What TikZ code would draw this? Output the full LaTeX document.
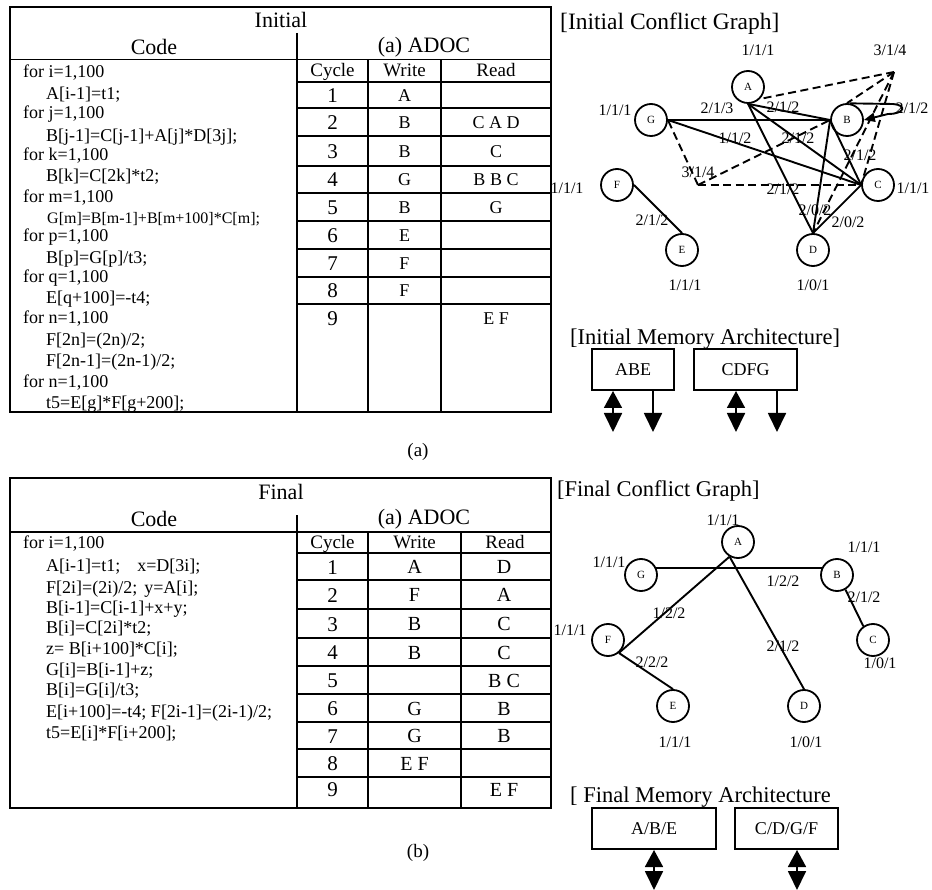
\documentclass[tikz,border=0pt]{standalone}
\usepackage{fontspec}
\setmainfont{Liberation Serif}
\usetikzlibrary{arrows.meta}
\begin{document}
\begin{tikzpicture}[x=1pt,y=-1pt,
  tl/.style={line width=1.5pt},
  codetxt/.style={anchor=base west,inner sep=0pt,font=\fontsize{18}{20}\selectfont},
  codesm/.style={anchor=base west,inner sep=0pt,font=\fontsize{16}{18}\selectfont},
  hdr/.style={inner sep=0pt,font=\fontsize{22}{24}\selectfont},
  colhdr/.style={anchor=base,inner sep=0pt,font=\fontsize{19}{20}\selectfont},
  num/.style={anchor=base,inner sep=0pt,font=\fontsize{21}{22}\selectfont},
  ltrA/.style={anchor=base,inner sep=0pt,font=\fontsize{18}{20}\selectfont},
  ltrB/.style={anchor=base,inner sep=0pt,font=\fontsize{20}{22}\selectfont},
  vtx/.style={circle,draw,line width=1.8pt,minimum size=32pt,inner sep=0pt,font=\fontsize{11}{11}\selectfont},
  lbl/.style={inner sep=0pt,font=\fontsize{16}{16}\selectfont},
  edg/.style={line width=1.9pt},
  hyp/.style={line width=1.9pt,dash pattern=on 8pt off 4.5pt},
  ttlA/.style={anchor=west,inner sep=0pt,font=\fontsize{23.5}{25}\selectfont},
  ttlB/.style={anchor=west,inner sep=0pt,font=\fontsize{22.5}{24}\selectfont},
  mbox/.style={draw,line width=2pt,inner sep=0pt,minimum height=41pt,font=\fontsize{18}{20}\selectfont},
  darr/.style={line width=1.8pt,arrows={Triangle[length=17pt,width=18pt]-Triangle[length=19pt,width=18pt]}},
  sarr/.style={line width=1.8pt,arrows={-Triangle[length=19pt,width=18pt]}},
  captxt/.style={inner sep=0pt,font=\fontsize{19}{20}\selectfont},
]
\useasboundingbox (0,0) rectangle (932,890);

% ================= TOP TABLE =================
\draw[tl] (10,7) rectangle (551,412);
\draw[tl] (297,33) -- (297,412);
\draw[tl] (10,59.5) -- (551,59.5);
\foreach \y in {82,108,136,166,193,221,249,277,304} \draw[tl] (297,\y) -- (551,\y);
\draw[tl] (368,59.5) -- (368,412);
\draw[tl] (441,59.5) -- (441,412);
\node[hdr] (tInit) at (281,20) {Initial};
\node[hdr] (tCode) at (154,47) {Code};
\node[hdr] (tAdoc) at (424,47) {(a) ADOC};
\node[colhdr] (tCy) at (332.5,77) {Cycle};
\node[colhdr] (tWr) at (404.5,77) {Write};
\node[colhdr] (tRd) at (496,77) {Read};
\foreach \n/\y/\w/\r in {1/95/A/{},2/122/B/{C A D},3/151/B/C,4/179.5/G/{B B C},5/207/B/G,6/235/E/{},7/263/F/{},8/290.5/F/{},9/318/{}/{E F}}{
  \node[num] (tn\n) at (332.5,\y+7.5) {\n};
  \node[ltrA] (tw\n) at (404.5,\y+6.5) {\w};
  \node[ltrA] (tr\n) at (496,\y+6.5) {\r};
}
\node[codetxt] (c1) at (23,77.3) {for i=1,100};
\node[codetxt] (c2) at (46,99.9) {A[i-1]=t1;};
\node[codetxt] (c3) at (23,118.9) {for j=1,100};
\node[codetxt] (c4) at (46,141.6) {B[j-1]=C[j-1]+A[j]*D[3j];};
\node[codetxt] (c5) at (23,160.6) {for k=1,100};
\node[codetxt] (c6) at (46,181.6) {B[k]=C[2k]*t2;};
\node[codetxt] (c7) at (23,202.3) {for m=1,100};
\node[codesm] (c8) at (47,223.4) {G[m]=B[m-1]+B[m+100]*C[m];};
\node[codetxt] (c9) at (23,241.6) {for p=1,100};
\node[codetxt] (c10) at (46,263.3) {B[p]=G[p]/t3;};
\node[codetxt] (c11) at (23,282.3) {for q=1,100};
\node[codetxt] (c12) at (46,303.9) {E[q+100]=-t4;};
\node[codetxt] (c13) at (23,323.9) {for n=1,100};
\node[codetxt] (c14) at (46,345.6) {F[2n]=(2n)/2;};
\node[codetxt] (c15) at (46,366.6) {F[2n-1]=(2n-1)/2;};
\node[codetxt] (c16) at (23,387.3) {for n=1,100};
\node[codetxt] (c17) at (46,408.3) {t5=E[g]*F[g+200];};
\node[captxt] (capa) at (418,452) {(a)};

% ================= BOTTOM TABLE =================
\draw[tl] (10,478) rectangle (551,808);
\draw[tl] (297,515) -- (297,808);
\draw[tl] (10,532) -- (551,532);
\foreach \y in {553,580,609,638,666,694,722,749,777} \draw[tl] (297,\y) -- (551,\y);
\draw[tl] (368,532) -- (368,808);
\draw[tl] (461,532) -- (461,808);
\node[hdr] (bFin) at (281,492) {Final};
\node[hdr] (bCode) at (154,519) {Code};
\node[hdr] (bAdoc) at (424,519) {(a) ADOC};
\node[colhdr] (bCy) at (332.5,548) {Cycle};
\node[colhdr] (bWr) at (414.5,548) {Write};
\node[colhdr] (bRd) at (505,548) {Read};
\foreach \n/\y/\w/\r in {1/566.5/A/D,2/594.5/F/A,3/623.5/B/C,4/652/B/C,5/680/{}/{B C},6/708/G/B,7/735.5/G/B,8/763/{E F}/{},9/789/{}/{E F}}{
  \node[num] (bn\n) at (332.5,\y+7.5) {\n};
  \node[ltrB] (bw\n) at (414.5,\y+7) {\w};
  \node[ltrB] (br\n) at (504,\y+7) {\r};
}
\node[codetxt] (d1) at (23,548.9) {for i=1,100};
\node[codetxt] (d2) at (46,571.6) {A[i-1]=t1;\hspace{17pt}x=D[3i];};
\node[codetxt] (d3) at (46,593.3) {F[2i]=(2i)/2;\hspace{7pt}y=A[i];};
\node[codetxt] (d4) at (46,613.9) {B[i-1]=C[i-1]+x+y;};
\node[codetxt] (d5) at (46,633.9) {B[i]=C[2i]*t2;};
\node[codetxt] (d6) at (46,654.9) {z= B[i+100]*C[i];};
\node[codetxt] (d7) at (46,675.6) {G[i]=B[i-1]+z;};
\node[codetxt] (d8) at (46,695.6) {B[i]=G[i]/t3;};
\node[codetxt] (d9) at (46,717.3) {E[i+100]=-t4; F[2i-1]=(2i-1)/2;};
\node[codetxt] (d10) at (46,738.3) {t5=E[i]*F[i+200];};
\node[captxt] (capb) at (418,853) {(b)};

% ================= INITIAL CONFLICT GRAPH =================
\node[ttlA] (g1t) at (560,24) {[Initial Conflict Graph]};
\node[vtx] (A) at (748,87) {A};
\node[vtx] (G) at (651,120) {G};
\node[vtx] (B) at (847,120) {B};
\node[vtx] (C) at (878,185) {C};
\node[vtx] (F) at (617,185) {F};
\node[vtx] (E) at (682,250) {E};
\node[vtx] (D) at (813,250) {D};
\coordinate (h1) at (894,72);
\coordinate (h2) at (698,185);
\draw[edg] (G.east) -- (B.west);
\draw[edg] (G.east) -- (C.west);
\draw[edg] (A.south) -- (B.west);
\draw[edg] (A.south) -- (C.west);
\draw[edg] (A.south) -- (D.north);
\draw[edg] (B.west) -- (D.north);
\draw[edg] (B.west) -- (C.west);
\draw[edg] (C.west) -- (D.north);
\draw[edg] (F.east) -- (E.north);
\draw[hyp] (h1) -- (A.-45);
\draw[hyp] (h1) -- (B.north);
\draw[hyp] (h1) -- (C.west);
\draw[hyp] (h1) -- (D.north);
\draw[hyp] (h2) -- (G.east);
\draw[hyp] (h2) -- (B.west);
\draw[hyp] (h2) -- (C.west);
\draw[edg,-{Triangle[length=11pt,width=9pt]}] (B.80) -- (893,104) .. controls (907,105) and (905,114) .. (888,114) -- (B.east);
\node[lbl] (l1) at (758,50) {1/1/1};
\node[lbl] (l2) at (890,50) {3/1/4};
\node[lbl] (l3) at (615,110) {1/1/1};
\node[lbl] (l4) at (717,108) {2/1/3};
\node[lbl] (l5) at (783,107) {2/1/2};
\node[lbl] (l6) at (912,108) {2/1/2};
\node[lbl] (l7) at (735,138) {1/1/2};
\node[lbl] (l8) at (798,138) {2/1/2};
\node[lbl] (l9) at (860,155) {2/1/2};
\node[lbl] (l10) at (698,172) {3/1/4};
\node[lbl] (l11) at (567,188) {1/1/1};
\node[lbl] (l12) at (783,189) {2/1/2};
\node[lbl] (l13) at (913,188) {1/1/1};
\node[lbl] (l14) at (815,210) {2/0/2};
\node[lbl] (l15) at (848,222) {2/0/2};
\node[lbl] (l16) at (652,220) {2/1/2};
\node[lbl] (l17) at (685,285) {1/1/1};
\node[lbl] (l18) at (813,285) {1/0/1};

% ================= INITIAL MEMORY =================
\node[ttlB] (m1t) at (570,339) {[Initial Memory Architecture]};
\node[mbox,minimum width=82pt] (ABE) at (633,369.5) {ABE};
\node[mbox,minimum width=103pt] (CDFG) at (745.5,369.5) {CDFG};
\coordinate (p1) at (613,432);
\coordinate (p2) at (653,432);
\coordinate (p3) at (736,432);
\coordinate (p4) at (777,432);
\draw[darr] (ABE.south -| p1) -- (p1);
\draw[sarr] (ABE.south -| p2) -- (p2);
\draw[darr] (CDFG.south -| p3) -- (p3);
\draw[sarr] (CDFG.south -| p4) -- (p4);

% ================= FINAL CONFLICT GRAPH =================
\node[ttlB] (g2t) at (557,491) {[Final Conflict Graph]};
\node[vtx] (fA) at (738,542) {A};
\node[vtx] (fG) at (641,575) {G};
\node[vtx] (fB) at (837,575) {B};
\node[vtx] (fF) at (608,640) {F};
\node[vtx] (fC) at (873,640) {C};
\node[vtx] (fE) at (673,706) {E};
\node[vtx] (fD) at (804,706) {D};
\draw[edg] (fG.25) -- (fB.155);
\draw[edg] (fA.240) -- (fF.-50);
\draw[edg] (fA.240) -- (fD.north);
\draw[edg] (fF.-50) -- (fE.north);
\draw[edg] (fB.-60) -- (fC.125);
\node[lbl] (k1) at (723,520) {1/1/1};
\node[lbl] (k2) at (864,547) {1/1/1};
\node[lbl] (k3) at (609,562) {1/1/1};
\node[lbl] (k4) at (783,581) {1/2/2};
\node[lbl] (k5) at (864,597) {2/1/2};
\node[lbl] (k6) at (669,613) {1/2/2};
\node[lbl] (k7) at (570,630) {1/1/1};
\node[lbl] (k8) at (783,646) {2/1/2};
\node[lbl] (k9) at (880,663) {1/0/1};
\node[lbl] (k10) at (652,662) {2/2/2};
\node[lbl] (k11) at (675,742) {1/1/1};
\node[lbl] (k12) at (806,742) {1/0/1};

% ================= FINAL MEMORY =================
\node[ttlB] (m2t) at (570,797.5) {[ Final Memory Architecture};
\node[mbox,minimum width=124pt] (ABEf) at (654,828.5) {A/B/E};
\node[mbox,minimum width=103pt] (CDGF) at (786.5,828.5) {C/D/G/F};
\coordinate (q1) at (654,890);
\coordinate (q2) at (797,890);
\draw[darr] (ABEf.south -| q1) -- (q1);
\draw[darr] (CDGF.south -| q2) -- (q2);
\end{tikzpicture}
\end{document}
